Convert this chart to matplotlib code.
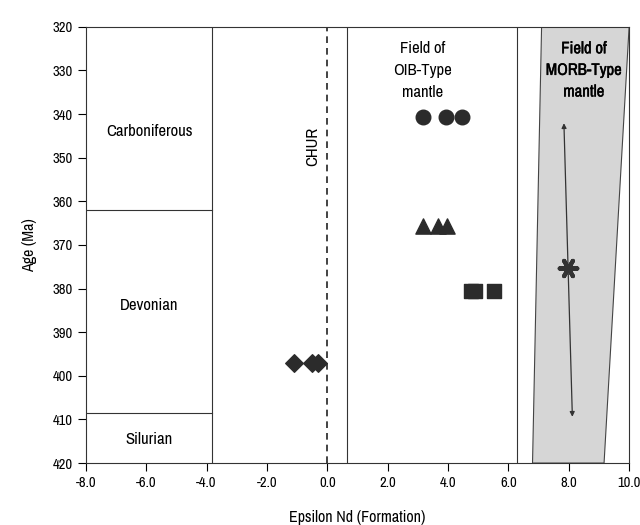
import matplotlib
matplotlib.use('Agg')
import matplotlib.pyplot as plt
import matplotlib.patheffects as pe
from matplotlib.patches import Polygon
from matplotlib import font_manager

names = sorted(set(f.name for f in font_manager.fontManager.ttflist))
narrow = [n for n in names if 'Narrow' in n or 'Condensed' in n]
plt.rcParams['font.family'] = narrow[:1] + ['DejaVu Sans']
plt.rcParams['font.stretch'] = 'condensed'

# data
circle_x = [3.16, 3.93, 4.47]
circle_age = [340.6, 340.6, 340.6]
tri_x = [3.18, 3.66, 3.98]
tri_age = [365.6, 365.6, 365.6]
sq_x = [4.75, 4.88, 5.53]
sq_age = [380.5, 380.5, 380.5]
dia_x = [-1.11, -0.52, -0.30]
dia_age = [397.0, 397.0, 397.0]
morb_x = [7.97]
morb_age = [375.3]
morb_range_x = [7.84, 8.12]
morb_range_age = [342.1, 409.4]

period_names = ['Carboniferous', 'Devonian', 'Silurian']
period_mid = [344.0, 384.0, 414.5]
period_bounds = [362.0, 408.5]

morb_field_x = [7.1, 10.0, 9.17, 6.8]
morb_field_age = [320, 320, 420, 420]

xticks = [-8, -6, -4, -2, 0, 2, 4, 6, 8, 10]
yticks = list(range(320, 421, 10))

fig = plt.figure(figsize=(6.4, 5.25), dpi=100)
ax = fig.add_axes([0.134, 0.118, 0.849, 0.831])

ax.add_patch(Polygon(list(zip(morb_field_x, morb_field_age)), closed=True,
                     facecolor='#d6d6d6', edgecolor='#444444', lw=0.8, zorder=1))

# period box
ax.axvline(-3.83, color='#333333', lw=0.8)
for b in period_bounds:
    ax.plot([-8, -3.83], [b, b], color='#333333', lw=0.8)
for name, m in zip(period_names, period_mid):
    ax.text(-5.9, m, name, ha='center', va='center', fontsize=12)

# CHUR and field boundaries
ax.axvline(0, color='#222222', lw=1.2, ls=(0, (4, 3)))
ax.text(-0.48, 347.5, 'CHUR', rotation=90, ha='center', va='center', fontsize=12)
ax.axvline(0.65, color='#333333', lw=0.8)
ax.axvline(6.3, color='#333333', lw=0.8)
ax.text(3.17, 330, 'Field of\nOIB-Type\nmantle', ha='center', va='center',
        fontsize=12, linespacing=1.55)
ax.text(8.5, 330, 'Field of\nMORB-Type\nmantle', ha='center', va='center',
        fontsize=12, linespacing=1.55, color='black',
        path_effects=[pe.Stroke(linewidth=0.3, foreground='black'), pe.Normal()])

# symbols
ax.scatter(circle_x, circle_age, marker='o', s=110, color='#2b2b2b', zorder=3)
ax.scatter(tri_x, tri_age, marker='^', s=120, color='#2b2b2b', zorder=3)
ax.scatter(sq_x, sq_age, marker='s', s=95, color='#2b2b2b', zorder=3)
ax.scatter(dia_x, dia_age, marker='D', s=80, color='#2b2b2b', zorder=3)
ax.annotate('', xy=(morb_range_x[0], morb_range_age[0]),
            xytext=(morb_range_x[1], morb_range_age[1]),
            arrowprops=dict(arrowstyle='<|-|>', color='#333333', lw=0.9,
                            mutation_scale=7, shrinkA=0, shrinkB=0), zorder=2)
ax.scatter(morb_x, morb_age, marker=(6, 2, 90), s=160, color='#333333',
           linewidths=3, zorder=4)

ax.set_xlim(-8, 10)
ax.set_ylim(420, 320)
ax.set_xticks(xticks)
ax.set_xticklabels(['%.1f' % t for t in xticks])
ax.set_yticks(yticks)
ax.tick_params(labelsize=10.5, length=6, width=0.8, direction='out')
for s in ax.spines.values():
    s.set_linewidth(0.8)
    s.set_color('#333333')
ax.set_xlabel('Epsilon Nd (Formation)', fontsize=11.5)
ax.set_ylabel('Age (Ma)', fontsize=11.5)
ax.xaxis.set_label_coords(0.5, -0.107)
ax.yaxis.set_label_coords(-0.09, 0.5)

fig.savefig('out.png', dpi=100)
